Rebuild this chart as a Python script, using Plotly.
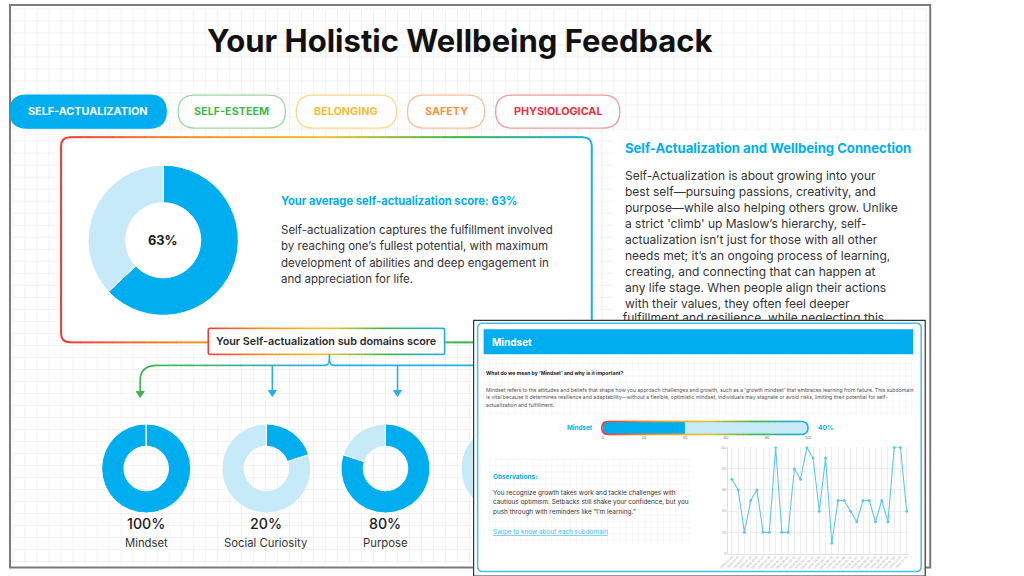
import plotly.graph_objects as go

W, H = 1024, 576
# the photographed page is slightly shrunk and shifted; compensate so marks land where the reference has them
SX, OX = 0.986, 10.0
SY, OY = 0.992, 2.0


def X(px):
    return ((px - OX) / SX) / W


def Y(py):
    return 1 - ((py - OY) / SY) / H


# ---------------- data ----------------
tab_labels = ["SELF-ACTUALIZATION", "SELF-ESTEEM", "BELONGING", "SAFETY", "PHYSIOLOGICAL"]
overall_score = 63
subdomain_names = ["Mindset", "Social Curiosity", "Purpose"]
subdomain_scores = [100, 20, 80]
hidden_subdomain_score = 40          # fourth donut, mostly hidden behind the inset card
gauge_label = "Mindset"
gauge_value = 40
gauge_ticks = [0, 20, 40, 60, 80, 100]
trend_dates = ["2024-01-03", "2024-01-10", "2024-01-17", "2024-01-24", "2024-01-31",
               "2024-02-07", "2024-02-14", "2024-02-21", "2024-02-28", "2024-03-06",
               "2024-03-13", "2024-03-20", "2024-03-27", "2024-04-03", "2024-04-10",
               "2024-04-17", "2024-04-24", "2024-05-01", "2024-05-08", "2024-05-15",
               "2024-05-22", "2024-05-29", "2024-06-05", "2024-06-12", "2024-06-19",
               "2024-06-26", "2024-07-03", "2024-07-10", "2024-07-17"]
trend_values = [70, 60, 20, 50, 60, 20, 20, 100, 20, 20, 80, 70, 100, 90, 40,
                90, 10, 50, 50, 40, 30, 50, 50, 30, 50, 30, 100, 100, 40]

card_heading = f"Your average self-actualization score: {overall_score}%"
card_lines = ["Self-actualization captures the fulfillment involved",
              "by reaching one’s fullest potential, with maximum",
              "development of abilities and deep engagement in",
              "and appreciation for life."]
right_title = "Self-Actualization and Wellbeing Connection"
right_lines = ["Self-Actualization is about growing into your",
               "best self—pursuing passions, creativity, and",
               "purpose—while also helping others grow. Unlike",
               "a strict 'climb' up Maslow’s hierarchy, self-",
               "actualization isn’t just for those with all other",
               "needs met; it’s an ongoing process of learning,",
               "creating, and connecting that can happen at",
               "any life stage. When people align their actions",
               "with their values, they often feel deeper",
               "fulfillment and resilience, while neglecting this"]
inset_question = "What do we mean by 'Mindset' and why is it important?"
inset_lines = ["Mindset refers to the attitudes and beliefs that shape how you approach challenges and growth, such as a 'growth mindset' that embraces learning from failure. This subdomain",
               "is vital because it determines resilience and adaptability—without a flexible, optimistic mindset, individuals may stagnate or avoid risks, limiting their potential for self-",
               "actualization and fulfillment."]
obs_lines = ["You recognize growth takes work and tackle challenges with",
             "cautious optimism. Setbacks still shake your confidence, but you",
             "push through with reminders like “I’m learning.”"]

# ---------------- style ----------------
FONT = "Inter, Noto Sans, sans-serif"
BLUE = "#00AEEF"
LIGHT = "#C6EAF8"
TXT = "#333333"
tab_text_colors = ["#FFFFFF", "#45B64B", "#F7BD3A", "#F6913D", "#E8303F"]
tab_line_colors = [BLUE, "#9ED7A2", "#FAD98A", "#F8C09A", "#F09AA1"]
tab_boxes = [(11, 167), (179, 286), (297, 397), (408, 485), (496, 620)]
GRAD = [(0.0, "#EE3B3B"), (0.25, "#F7941D"), (0.5, "#F2C12E"), (0.75, "#3DB54A"), (1.0, "#1FAEEA")]


def hex2rgb(h):
    h = h.lstrip("#")
    return tuple(int(h[i:i + 2], 16) for i in (0, 2, 4))


def mix(c1, c2, t):
    a, b = hex2rgb(c1), hex2rgb(c2)
    return "rgb(%d,%d,%d)" % tuple(round(a[i] + (b[i] - a[i]) * t) for i in range(3))


def grad(t):
    t = min(max(t, 0), 1)
    for (t0, c0), (t1, c1) in zip(GRAD[:-1], GRAD[1:]):
        if t <= t1:
            return mix(c0, c1, (t - t0) / (t1 - t0))
    return GRAD[-1][1]


def P(x, y):
    return f"{X(x):.5f},{Y(y):.5f}"


def rr_path(x0, y0, x1, y1, r):
    return (f"M{P(x0 + r, y0)}L{P(x1 - r, y0)}Q{P(x1, y0)} {P(x1, y0 + r)}"
            f"L{P(x1, y1 - r)}Q{P(x1, y1)} {P(x1 - r, y1)}L{P(x0 + r, y1)}"
            f"Q{P(x0, y1)} {P(x0, y1 - r)}L{P(x0, y0 + r)}Q{P(x0, y0)} {P(x0 + r, y0)}Z")


def shp_path(path, fill=None, line=None, lw=0, layer="below"):
    return dict(type="path", xref="paper", yref="paper", path=path, layer=layer,
                fillcolor=fill if fill else "rgba(0,0,0,0)",
                line=dict(color=line if line else "rgba(0,0,0,0)", width=lw))


def shp_rect(x0, y0, x1, y1, fill=None, line=None, lw=0, layer="below"):
    return dict(type="rect", xref="paper", yref="paper", x0=X(x0), x1=X(x1), y0=Y(y1), y1=Y(y0),
                layer=layer, fillcolor=fill if fill else "rgba(0,0,0,0)",
                line=dict(color=line if line else "rgba(0,0,0,0)", width=lw))


def shp_line(x0, y0, x1, y1, color, lw, layer="below"):
    return dict(type="line", xref="paper", yref="paper", x0=X(x0), x1=X(x1), y0=Y(y0), y1=Y(y1),
                layer=layer, line=dict(color=color, width=lw))


def grad_border(x0, y0, x1, y1, r, lw, n=40, layer="below"):
    out = []
    left = f"M{P(x0 + r, y0)}Q{P(x0, y0)} {P(x0, y0 + r)}L{P(x0, y1 - r)}Q{P(x0, y1)} {P(x0 + r, y1)}"
    right = f"M{P(x1 - r, y0)}Q{P(x1, y0)} {P(x1, y0 + r)}L{P(x1, y1 - r)}Q{P(x1, y1)} {P(x1 - r, y1)}"
    out.append(shp_path(left, line=grad(0), lw=lw, layer=layer))
    out.append(shp_path(right, line=grad(1), lw=lw, layer=layer))
    span = (x1 - r) - (x0 + r)
    for i in range(n):
        a = x0 + r + span * i / n
        b = x0 + r + span * (i + 1) / n
        c = grad(((a + b) / 2 - x0) / (x1 - x0))
        out.append(shp_line(a - 0.3, y0, b + 0.3, y0, c, lw, layer))
        out.append(shp_line(a - 0.3, y1, b + 0.3, y1, c, lw, layer))
    return out


def grid_path(x0, y0, x1, y1, step):
    s = ""
    x = x0
    while x <= x1:
        s += f"M{P(x, y0)}L{P(x, y1)}"
        x += step
    y = y0
    while y <= y1:
        s += f"M{P(x0, y)}L{P(x1, y)}"
        y += step
    return s


def txt(s, x, y, size, color=TXT, weight=400, anchor="left"):
    return dict(text=s, x=X(x), y=Y(y), xref="paper", yref="paper", xanchor=anchor,
                yanchor="middle", showarrow=False,
                font=dict(family=FONT, size=size, color=color, weight=weight))


shapes = []
ann = []

# ---------- page background grid and frame ----------
shapes.append(shp_path(grid_path(14, 9, 926, 563, 12), line="#F1F1F1", lw=1))
shapes.append(shp_rect(612, 132, 928, 320, fill="white"))
shapes.append(shp_rect(11, 5, 930, 567, line="#7A7A7A", lw=2))

# ---------- title ----------
ann.append(txt("Your Holistic Wellbeing Feedback", 460, 40, 31, "#111111", 700, "center"))

# ---------- tabs ----------
for i, lab in enumerate(tab_labels):
    x0, x1 = tab_boxes[i]
    fill = BLUE if i == 0 else "white"
    shapes.append(shp_path(rr_path(x0, 95, x1, 128, 16.5), fill=fill, line=tab_line_colors[i], lw=1.3))
    ann.append(txt(lab, (x0 + x1) / 2, 111.5, 10.8, tab_text_colors[i], 700, "center"))

# ---------- main card ----------
shapes.append(shp_path(rr_path(62, 137, 592, 342, 9), fill="white"))
shapes += grad_border(62, 137, 592, 342, 9, 2, n=48)

ann.append(txt(card_heading, 280, 201, 11.2, BLUE, 700))
for i, line in enumerate(card_lines):
    ann.append(txt(line, 280, 229.5 + i * 16.5, 11.5, TXT))
ann.append(txt(f"{overall_score}%", 164, 240, 12.8, "#1A1A1A", 700, "center"))

# ---------- right explanatory text ----------
ann.append(txt(right_title, 623, 148, 13.1, BLUE, 700))
for i, line in enumerate(right_lines[:-1]):
    ann.append(txt(line, 623, 175 + i * 16, 12, TXT))

# ---------- sub-domain label box and connectors ----------
shapes.append(shp_rect(209, 328, 445, 354, fill="white"))
shapes += grad_border(209, 328, 445, 354, 1.5, 1.6, n=30)
ann.append(txt("Your Self-actualization sub domains score", 327, 341.5, 10.8, "#2A2A2A", 600, "center"))

CB = "#27AEE4"
GREEN = "#3DB54A"
shapes.append(shp_path(f"M{P(330, 354)}L{P(330, 359)}Q{P(330, 365)} {P(336, 365)}L{P(480, 365)}", line=CB, lw=1.6))
shapes.append(shp_path(f"M{P(330, 359)}Q{P(330, 365)} {P(324, 365)}", line=CB, lw=1.6))
nseg = 10
for i in range(nseg):
    a = 324 - (324 - 158) * i / nseg
    b = 324 - (324 - 158) * (i + 1) / nseg
    shapes.append(shp_line(a + 0.3, 365, b - 0.3, 365, mix("#27AEE4", GREEN, (i + 0.5) / nseg), 1.6))
shapes.append(shp_path(f"M{P(158, 365)}Q{P(141, 365)} {P(141, 380)}L{P(141, 392)}", line=GREEN, lw=1.6))
shapes.append(shp_path(f"M{P(137, 391)}L{P(145, 391)}L{P(141, 397)}Z", fill=GREEN, line=GREEN, lw=1))
for ax_ in (273, 398):
    shapes.append(shp_line(ax_, 365, ax_, 391, CB, 1.6))
    shapes.append(shp_path(f"M{P(ax_ - 4, 390)}L{P(ax_ + 4, 390)}L{P(ax_, 396)}Z", fill=CB, line=CB, lw=1))

# ---------- donuts ----------
traces = []


def donut(v, cx, cy, r):
    return go.Pie(values=[v, 100 - v], marker=dict(colors=[BLUE, LIGHT], line=dict(color="white", width=1)),
                  hole=0.5, sort=False, direction="clockwise", rotation=0, textinfo="none",
                  hoverinfo="skip", showlegend=False,
                  domain=dict(x=[X(cx - r), X(cx + r)], y=[Y(cy + r), Y(cy - r)]))


traces.append(donut(overall_score, 164, 240, 75))
small_cx = [147, 267, 386]
for name, v, cx in zip(subdomain_names, subdomain_scores, small_cx):
    traces.append(donut(v, cx, 468, 44.5))
    ann.append(txt(f"{v}%", cx, 523, 14.2, "#1A1A1A", 500, "center"))
    ann.append(txt(name, cx, 542, 11.3, TXT, 400, "center"))
traces.append(donut(hidden_subdomain_score, 506, 468, 44.5))

# last (half hidden) line of the right text, as a trace so the inset covers it
traces.append(go.Scatter(x=[X(623) * W], y=[(1 - Y(319)) * H], mode="text", text=[right_lines[-1]],
                         textposition="middle right",
                         textfont=dict(family=FONT, size=12, color=TXT), hoverinfo="skip",
                         showlegend=False, cliponaxis=False, xaxis="x", yaxis="y"))

# ---------- inset card ----------
shapes.append(shp_rect(474, 320, 925, 575, fill="white"))  # backdrop behind holes
outer = f"M{P(474, 320)}L{P(925, 320)}L{P(925, 576)}L{P(474, 576)}Z"
hole_gauge = f"M{P(598, 418)}L{P(598, 446)}L{P(815, 446)}L{P(815, 418)}Z"
hole_chart = f"M{P(712, 440)}L{P(712, 570)}L{P(916, 570)}L{P(916, 440)}Z"
shapes.append(shp_path(outer + hole_gauge + hole_chart, fill="white", layer="above"))
shapes.append(shp_path(grid_path(484, 357, 913, 415, 6.2), line="#F2F2F2", lw=0.6, layer="above"))
shapes.append(shp_path(grid_path(490, 459, 692, 543, 6.2), line="#F2F2F2", lw=0.6, layer="above"))
shapes.append(shp_rect(484, 329, 913, 354, fill=BLUE, layer="above"))
shapes.append(shp_path(rr_path(478, 323, 921, 571, 5), line="#45BCEE", lw=1.5, layer="above"))
shapes.append(shp_rect(474, 320, 925, 575.5, line="#333333", lw=1.2, layer="above"))
shapes += grad_border(602, 421, 808, 434, 6.5, 1.6, n=30, layer="above")

ann.append(txt("Mindset", 490, 341.5, 10, "white", 700))
ann.append(txt(inset_question, 484, 373, 5.1, "#1E1E1E", 700))
for i, line in enumerate(inset_lines):
    ann.append(txt(line, 484, 389.5 + i * 7.5, 5.15, "#555555"))
ann.append(txt(gauge_label, 595, 428, 6.3, BLUE, 700, "right"))
ann.append(txt(f"{gauge_value}%", 816, 428, 6.5, BLUE, 700))
ann.append(txt("Observations:", 491, 476, 6.4, BLUE, 700))
for i, line in enumerate(obs_lines):
    ann.append(txt(line, 491, 492 + i * 9.5, 6.4, TXT))
ann.append(txt("<u>Swipe to know about each subdomain</u>", 491, 531, 6.4, "#3DBDF2"))

# gauge bar
traces.append(go.Bar(x=[100], y=[0], orientation="h", width=1, marker=dict(color=LIGHT, line=dict(width=0)),
                     hoverinfo="skip", showlegend=False, xaxis="x3", yaxis="y3"))
traces.append(go.Bar(x=[gauge_value], y=[0], orientation="h", width=1, marker=dict(color=BLUE, line=dict(width=0)),
                     hoverinfo="skip", showlegend=False, xaxis="x3", yaxis="y3"))

# trend line
traces.append(go.Scatter(x=trend_dates, y=trend_values, mode="lines+markers",
                         line=dict(color="#5CC8F4", width=1.1), marker=dict(color="#5CC8F4", size=3),
                         hoverinfo="skip", showlegend=False, xaxis="x2", yaxis="y2", cliponaxis=False))

fig = go.Figure(data=traces)
fig.update_layout(
    width=W, height=H, margin=dict(l=0, r=0, t=0, b=0),
    paper_bgcolor="white", plot_bgcolor="rgba(0,0,0,0)",
    barmode="overlay", barcornerradius=6,
    shapes=shapes, annotations=ann,
    xaxis=dict(domain=[0, 1], range=[0, W], visible=False, fixedrange=True),
    yaxis=dict(domain=[0, 1], range=[H, 0], visible=False, fixedrange=True),
    xaxis2=dict(domain=[X(728), X(909)], anchor="y2", type="category", range=[-0.64, 28.4],
                tickangle=-45, tickfont=dict(family=FONT, size=2.9, color="#A0A0A0"),
                showgrid=True, gridcolor="#EDEDED", gridwidth=0.6, showline=True, linecolor="#E0E0E0",
                linewidth=0.6, zeroline=False, ticks=""),
    yaxis2=dict(domain=[Y(553), Y(447)], anchor="x2", range=[0, 100], dtick=20,
                tickfont=dict(family=FONT, size=3.6, color="#A0A0A0"),
                showgrid=True, gridcolor="#EDEDED", gridwidth=0.6, showline=True, linecolor="#E0E0E0",
                linewidth=0.6, zeroline=False, ticks=""),
    xaxis3=dict(domain=[X(603), X(808)], anchor="y3", range=[0, 100], tickvals=gauge_ticks,
                tickfont=dict(family=FONT, size=3.8, color="#777777"), showgrid=False, zeroline=False,
                showline=False, ticks=""),
    yaxis3=dict(domain=[Y(434), Y(421)], anchor="x3", range=[-0.5, 0.5], visible=False),
)

fig.write_html("out.html", config={"displayModeBar": False},
               post_script="document.documentElement.style.margin='0';document.body.style.margin='0';document.body.style.padding='0';document.body.style.overflow='hidden';")
